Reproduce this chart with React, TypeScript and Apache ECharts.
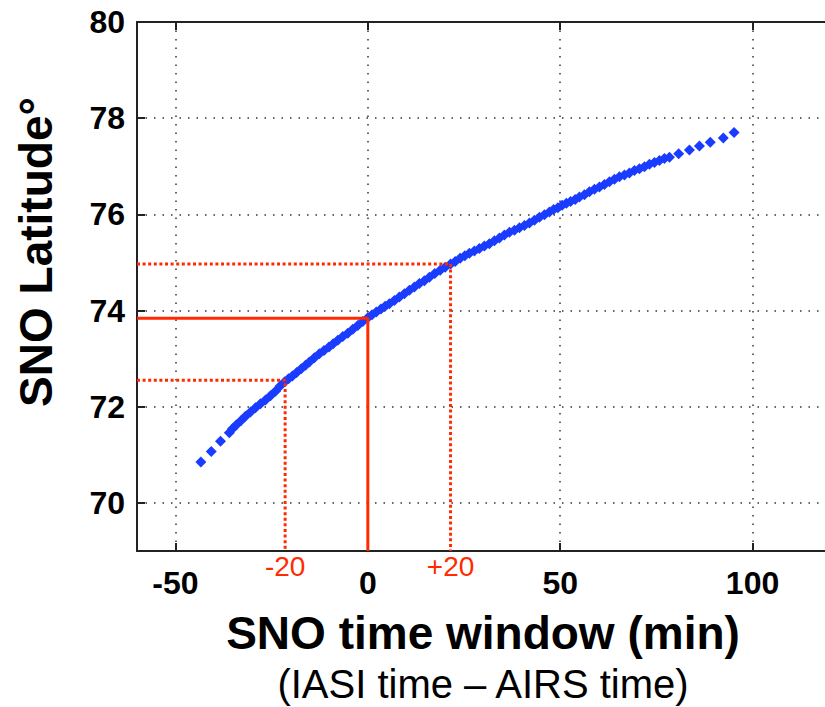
import React, { useEffect, useRef } from "react";
import * as echarts from "echarts";

// SNO time window (IASI time - AIRS time), minutes
const timeWindow = [
  -43.4, -40.7, -38.3, -36.0, -35.2, -34.2, -33.0, -31.8, -30.5, -29.2, -27.9, -26.6, -25.3, -24.0,
  -22.8, -21.6, -20.6, -19.6, -18.5, -17.3, -16.2, -15.2, -13.9, -12.6, -11.4, -10.1, -9.0, -7.8,
  -6.5, -5.2, -3.9, -2.6, -1.3, 0.0, 1.1, 2.2, 3.4, 4.5, 5.6, 6.9, 8.2, 9.5, 10.8, 12.1, 13.4, 14.7,
  16.0, 17.4, 18.8, 20.1, 21.5, 22.7, 24.0, 25.2, 26.4, 27.7, 29.0, 30.3, 31.6, 32.9, 34.2, 35.5,
  36.8, 38.1, 39.4, 40.7, 42.0, 43.3, 44.6, 45.9, 47.2, 48.3, 49.4, 50.5, 51.6, 52.7, 53.9, 55.0,
  56.3, 57.6, 58.9, 60.2, 61.5, 62.8, 64.1, 65.4, 66.7, 68.0, 69.3, 70.6, 71.9, 73.2, 74.5, 75.8,
  77.1, 78.4, 80.8, 83.6, 86.2, 89.0, 92.4, 95.2,
];
// SNO latitude, degrees
const latitude = [
  70.85, 71.07, 71.28, 71.46, 71.54, 71.62, 71.71, 71.8, 71.89, 71.98, 72.06, 72.14, 72.23, 72.32,
  72.43, 72.52, 72.58, 72.64, 72.71, 72.79, 72.86, 72.93, 73.02, 73.1, 73.17, 73.24, 73.31, 73.38,
  73.46, 73.53, 73.61, 73.69, 73.77, 73.85, 73.91, 73.97, 74.03, 74.09, 74.14, 74.21, 74.28, 74.35,
  74.42, 74.49, 74.56, 74.62, 74.69, 74.77, 74.84, 74.9, 74.97, 75.02, 75.09, 75.14, 75.19, 75.24,
  75.29, 75.34, 75.39, 75.45, 75.51, 75.57, 75.63, 75.67, 75.72, 75.77, 75.82, 75.88, 75.94, 75.99,
  76.05, 76.1, 76.14, 76.19, 76.23, 76.27, 76.31, 76.36, 76.41, 76.47, 76.52, 76.57, 76.62, 76.68,
  76.73, 76.78, 76.82, 76.86, 76.91, 76.95, 76.99, 77.04, 77.08, 77.12, 77.16, 77.19, 77.26, 77.34,
  77.42, 77.5, 77.59, 77.7,
];

// axis ranges
const xRange = [-60, 120];
const yRange = [69, 80];

// reference guides: central SNO, and the -20 / +20 min windows
const centerTime = 0;
const centerLat = 73.84;
const windowTimes = [-21.5, 21.5];
const windowLats = [72.55, 74.97];
const windowLabels = ["-20", "+20"];

const FONT = '"Liberation Sans", Arial, Helvetica, sans-serif';
const RED = "#ff2a00";
const BLUE = "#1a3cff";

export default function App() {
  const ref = useRef<HTMLDivElement>(null);
  useEffect(() => {
    document.body.style.margin = "0";
    const chart = echarts.init(ref.current!, null, { renderer: "svg" });
    const pts = timeWindow.map((t, i) => [t, latitude[i]]);
    const axisLine = { show: true, onZero: false, lineStyle: { color: "#222", width: 2 } };
    const axisTick = { show: true, inside: true, length: 8, lineStyle: { color: "#222", width: 2 } };
    const splitLine = { show: true, lineStyle: { color: "#333", width: 1.5, type: [1.5, 7] } };
    const redSolid = { color: RED, width: 3, type: "solid" };
    const redDot = { color: RED, width: 3, type: [3, 2.6] };
    const lineSeries = (data: number[][], style: any) => ({
      type: "line",
      data,
      symbol: "none",
      lineStyle: style,
      z: 5,
      silent: true,
    });
    chart.setOption({
      animation: false,
      grid: {
        left: 137,
        top: 22,
        width: 692.5,
        height: 529,
        containLabel: false,
        outerBoundsMode: "none",
      },
      xAxis: [
        {
          type: "value",
          min: xRange[0],
          max: xRange[1],
          splitNumber: 3,
          position: "bottom",
          axisLine,
          axisTick,
          splitLine,
          axisLabel: {
            showMinLabel: false,
            showMaxLabel: false,
            margin: 16,
            fontSize: 32,
            fontWeight: "bold",
            color: "#000",
            fontFamily: FONT,
          },
        },
        {
          type: "value",
          min: xRange[0],
          max: xRange[1],
          splitNumber: 3,
          position: "top",
          axisLine,
          axisTick,
          splitLine: { show: false },
          axisLabel: { show: false },
        },
      ],
      yAxis: [
        {
          type: "value",
          min: yRange[0],
          max: yRange[1],
          splitNumber: 5,
          position: "left",
          axisLine,
          axisTick,
          splitLine,
          axisLabel: {
            showMinLabel: false,
            margin: 12,
            fontSize: 32,
            fontWeight: "bold",
            color: "#000",
            fontFamily: FONT,
          },
        },
      ],
      series: [
        {
          type: "scatter",
          data: pts,
          symbol: "diamond",
          symbolSize: 11,
          itemStyle: { color: BLUE, opacity: 1 },
          z: 3,
        },
        lineSeries([[xRange[0], centerLat], [centerTime, centerLat], [centerTime, yRange[0]]], redSolid),
        lineSeries([[xRange[0], windowLats[0]], [windowTimes[0], windowLats[0]], [windowTimes[0], yRange[0]]], redDot),
        lineSeries([[xRange[0], windowLats[1]], [windowTimes[1], windowLats[1]], [windowTimes[1], yRange[0]]], redDot),
      ],
    });
    const bottom = chart.convertToPixel({ yAxisIndex: 0 }, yRange[0]);
    const graphics: any[] = windowTimes.map((t, i) => ({
      type: "text",
      x: chart.convertToPixel({ xAxisIndex: 0 }, t),
      y: bottom + 15,
      style: {
        text: windowLabels[i],
        fill: RED,
        font: `28px ${FONT}`,
        align: "center",
        verticalAlign: "middle",
      },
    }));
    graphics.push(
      {
        type: "text",
        x: 483,
        y: 633,
        style: {
          text: "SNO time window (min)",
          fill: "#000",
          font: `bold 46px ${FONT}`,
          align: "center",
          verticalAlign: "middle",
        },
      },
      {
        type: "text",
        x: 483,
        y: 684,
        style: {
          text: "(IASI time – AIRS time)",
          fill: "#000",
          font: `40px ${FONT}`,
          align: "center",
          verticalAlign: "middle",
        },
      },
      {
        type: "text",
        x: 36,
        y: 252,
        rotation: Math.PI / 2,
        style: {
          text: "SNO Latitude°",
          fill: "#000",
          font: `bold 46px ${FONT}`,
          align: "center",
          verticalAlign: "middle",
        },
      }
    );
    chart.setOption({ graphic: graphics });
    return () => chart.dispose();
  }, []);
  return <div ref={ref} style={{ width: 825, height: 707 }} />;
}
